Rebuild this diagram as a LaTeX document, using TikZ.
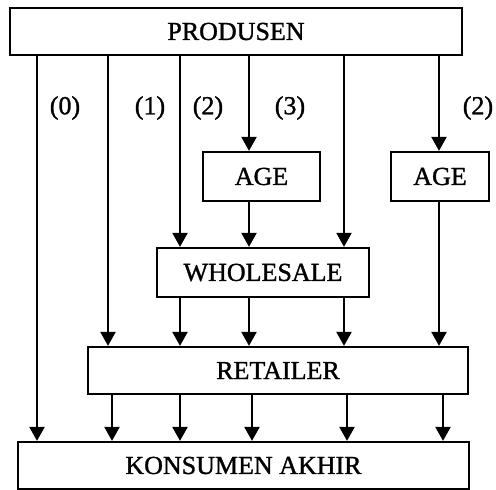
\documentclass[tikz,border=0pt]{standalone}
\usepackage{fontspec}
\setmainfont[FakeBold=1.2]{Liberation Serif}
\usetikzlibrary{arrows.meta}
\tikzset{
  box/.style={draw, line width=2.3pt, rectangle, inner sep=0pt, font=\fontsize{26}{30}\selectfont},
  lbl/.style={inner sep=0pt, font=\fontsize{26}{30}\selectfont},
  arr/.style={line width=2.3pt, -{Triangle[length=14pt,width=15pt]}},
}
\begin{document}
\begin{tikzpicture}[x=1pt,y=-1pt]
\useasboundingbox (0,0) rectangle (496,490);
\node[box, minimum width=452pt, minimum height=47pt] (prod) at (236,31.5) {PRODUSEN};
\node[box, minimum width=117pt, minimum height=49pt] (age1) at (261.5,176.5) {AGE};
\node[box, minimum width=98pt, minimum height=49pt] (age2) at (440,176.5) {AGE};
\node[box, minimum width=212pt, minimum height=49pt] (whole) at (263,272.5) {WHOLESALE};
\node[box, minimum width=380pt, minimum height=47pt] (ret) at (278,370.5) {RETAILER};
\node[box, minimum width=451pt, minimum height=47pt] (kons) at (243.5,465.5) {KONSUMEN AKHIR};

\node[lbl] (l0) at (65,108) {(0)};
\node[lbl] (l1) at (150,108) {(1)};
\node[lbl] (l2) at (208,108) {(2)};
\node[lbl] (l3) at (290,108) {(3)};
\node[lbl] (l4) at (478,108) {(2)};

\coordinate (c0) at (37,0);
\coordinate (c1) at (108,0);
\coordinate (c1b) at (112,0);
\coordinate (c2) at (180,0);
\coordinate (c3) at (249,0);
\coordinate (c3b) at (252,0);
\coordinate (c4) at (344,0);
\coordinate (c4b) at (347,0);
\coordinate (c5) at (439,0);
\coordinate (c5b) at (443,0);

% from PRODUSEN
\draw[arr] (prod.south -| c0) -- (kons.north -| c0);
\draw[arr] (prod.south -| c1) -- (ret.north -| c1);
\draw[arr] (prod.south -| c2) -- (whole.north -| c2);
\draw[arr] (prod.south -| c3) -- (age1.north -| c3);
\draw[arr] (prod.south -| c4) -- (whole.north -| c4);
\draw[arr] (prod.south -| c5) -- (age2.north -| c5);
% AGE
\draw[arr] (age1.south -| c3) -- (whole.north -| c3);
\draw[arr] (age2.south -| c5) -- (ret.north -| c5);
% WHOLESALE
\draw[arr] (whole.south -| c2) -- (ret.north -| c2);
\draw[arr] (whole.south -| c3) -- (ret.north -| c3);
\draw[arr] (whole.south -| c4) -- (ret.north -| c4);
% RETAILER
\draw[arr] (ret.south -| c1b) -- (kons.north -| c1b);
\draw[arr] (ret.south -| c2) -- (kons.north -| c2);
\draw[arr] (ret.south -| c3b) -- (kons.north -| c3b);
\draw[arr] (ret.south -| c4b) -- (kons.north -| c4b);
\draw[arr] (ret.south -| c5b) -- (kons.north -| c5b);
\end{tikzpicture}
\end{document}
